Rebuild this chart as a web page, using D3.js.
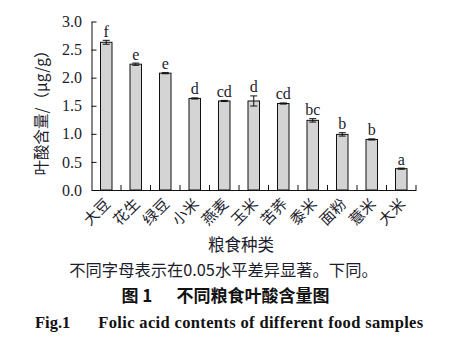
<!DOCTYPE html>
<html>
<head>
<meta charset="utf-8">
<script src="https://cdn.jsdelivr.net/npm/d3@7"></script>
<style>
  body { margin: 0; background: #fff; }
  svg { display: block; }
</style>
</head>
<body>
<div id="chart"></div>
<script>
// data
var foods = ["大豆", "花生", "绿豆", "小米", "燕麦", "玉米", "苦荞", "黍米", "面粉", "薏米", "大米"]
var folate = [2.63, 2.24, 2.08, 1.63, 1.585, 1.585, 1.54, 1.24, 0.99, 0.90, 0.38]
var folateSd = [0.035, 0.02, 0.01, 0.01, 0.01, 0.09, 0.01, 0.03, 0.03, 0.01, 0.01]
var letters = ["f", "e", "e", "d", "cd", "d", "cd", "bc", "b", "b", "a"]
var yTicks = [0, 0.5, 1.0, 1.5, 2.0, 2.5, 3.0]

var width = 450
var height = 358
var plotLeft = 91.5, plotRight = 416, plotTop = 21.5, plotBottom = 190

var serif = "'Liberation Serif', 'Times New Roman', serif"
var cjk = "'Noto Sans CJK SC', sans-serif"
var ink = '#1c1c2c'

var svg = d3.select('#chart')
            .append('svg')
            .attr('width', width)
            .attr('height', height)

var xScale = d3.scaleBand()
                .domain(foods)
                .range([plotLeft, plotRight])
                .paddingInner(0.61)
                .paddingOuter(0.305)

var yScale = d3.scaleLinear()
                .domain([0, 3])
                .range([plotBottom, plotTop])

// bars
svg.selectAll('.bar')
    .data(foods)
    .enter()
    .append('rect')
    .attr('class', 'bar')
    .attr('x', (d) => xScale(d))
    .attr('y', (d, i) => yScale(folate[i]))
    .attr('width', xScale.bandwidth())
    .attr('height', (d, i) => plotBottom - yScale(folate[i]))
    .attr('fill', '#d4d4d4')
    .attr('stroke', '#111')
    .attr('stroke-width', 1)

// error bars
var err = svg.append('g').attr('stroke', '#111').attr('stroke-width', 1)
foods.forEach(function (d, i) {
    var cx = xScale(d) + xScale.bandwidth() / 2
    var hi = yScale(folate[i] + folateSd[i])
    var lo = yScale(folate[i] - folateSd[i])
    err.append('line').attr('x1', cx).attr('x2', cx).attr('y1', hi).attr('y2', lo)
    err.append('line').attr('x1', cx - 3.5).attr('x2', cx + 3.5).attr('y1', hi).attr('y2', hi)
    err.append('line').attr('x1', cx - 3.5).attr('x2', cx + 3.5).attr('y1', lo).attr('y2', lo)
})

// significance letters
svg.selectAll('.sig')
    .data(foods)
    .enter()
    .append('text')
    .attr('class', 'sig')
    .attr('x', (d) => xScale(d) + xScale.bandwidth() / 2)
    .attr('y', (d, i) => yScale(folate[i] + folateSd[i]) - 3.5)
    .attr('text-anchor', 'middle')
    .attr('font-family', serif)
    .attr('font-size', 16)
    .attr('fill', ink)
    .text((d, i) => letters[i])

// y axis
var yAxis = d3.axisLeft(yScale)
                .tickValues(yTicks)
                .tickFormat(d3.format('.1f'))
                .tickSizeInner(-5)
                .tickSizeOuter(0)
                .tickPadding(9.5)

var yG = svg.append('g')
            .attr('transform', 'translate(' + plotLeft + ',0)')
            .call(yAxis)
yG.selectAll('text').attr('font-family', serif).attr('font-size', 16).attr('fill', ink)
yG.selectAll('line, path').attr('stroke', '#111')

// x axis
var xAxis = d3.axisBottom(xScale)
                .tickSize(0)
                .tickSizeOuter(0)
                .tickPadding(0)

var xG = svg.append('g')
            .attr('transform', 'translate(0,' + plotBottom + ')')
            .call(xAxis)
xG.select('.domain').attr('stroke', '#111')
xG.selectAll('text')
    .attr('font-family', cjk)
    .attr('font-size', 15)
    .attr('fill', ink)
    .attr('text-anchor', 'end')
    .attr('dy', null)
    .attr('y', 0)
    .attr('transform', 'translate(5,15) rotate(-45)')

// boundary ticks between categories, pointing up
svg.append('g')
    .selectAll('line')
    .data(foods)
    .enter()
    .append('line')
    .attr('x1', (d) => xScale(d) + xScale.bandwidth() / 2 + xScale.step() / 2)
    .attr('x2', (d) => xScale(d) + xScale.bandwidth() / 2 + xScale.step() / 2)
    .attr('y1', plotBottom)
    .attr('y2', plotBottom - 5)
    .attr('stroke', '#111')

// axis titles
svg.append('text')
    .attr('transform', 'translate(47,109) rotate(-90)')
    .attr('text-anchor', 'middle')
    .attr('font-family', cjk)
    .attr('font-size', 15.5)
    .attr('fill', ink)
    .text('叶酸含量/（μg/g）')

svg.append('text')
    .attr('x', 241)
    .attr('y', 251)
    .attr('text-anchor', 'middle')
    .attr('font-family', cjk)
    .attr('font-size', 16.5)
    .attr('fill', ink)
    .text('粮食种类')

// captions
svg.append('text')
    .attr('x', 223.5)
    .attr('y', 276)
    .attr('text-anchor', 'middle')
    .attr('font-family', cjk)
    .attr('font-size', 16.3)
    .attr('fill', ink)
    .text('不同字母表示在0.05水平差异显著。下同。')

svg.append('text')
    .attr('x', 121.5)
    .attr('y', 302)
    .attr('font-family', cjk)
    .attr('font-weight', 'bold')
    .attr('font-size', 17)
    .attr('fill', '#111')
    .text('图 1')

svg.append('text')
    .attr('x', 176.5)
    .attr('y', 302)
    .attr('font-family', cjk)
    .attr('font-weight', 'bold')
    .attr('font-size', 17)
    .attr('fill', '#111')
    .text('不同粮食叶酸含量图')

svg.append('text')
    .attr('x', 35)
    .attr('y', 328)
    .attr('font-family', serif)
    .attr('font-weight', 'bold')
    .attr('font-size', 16.5)
    .attr('fill', '#111')
    .text('Fig.1')

svg.append('text')
    .attr('x', 98.3)
    .attr('y', 328)
    .attr('font-family', serif)
    .attr('font-weight', 'bold')
    .attr('font-size', 16.5)
    .attr('letter-spacing', 0.35)
    .attr('fill', '#111')
    .text('Folic acid contents of different food samples')
</script>
</body>
</html>
